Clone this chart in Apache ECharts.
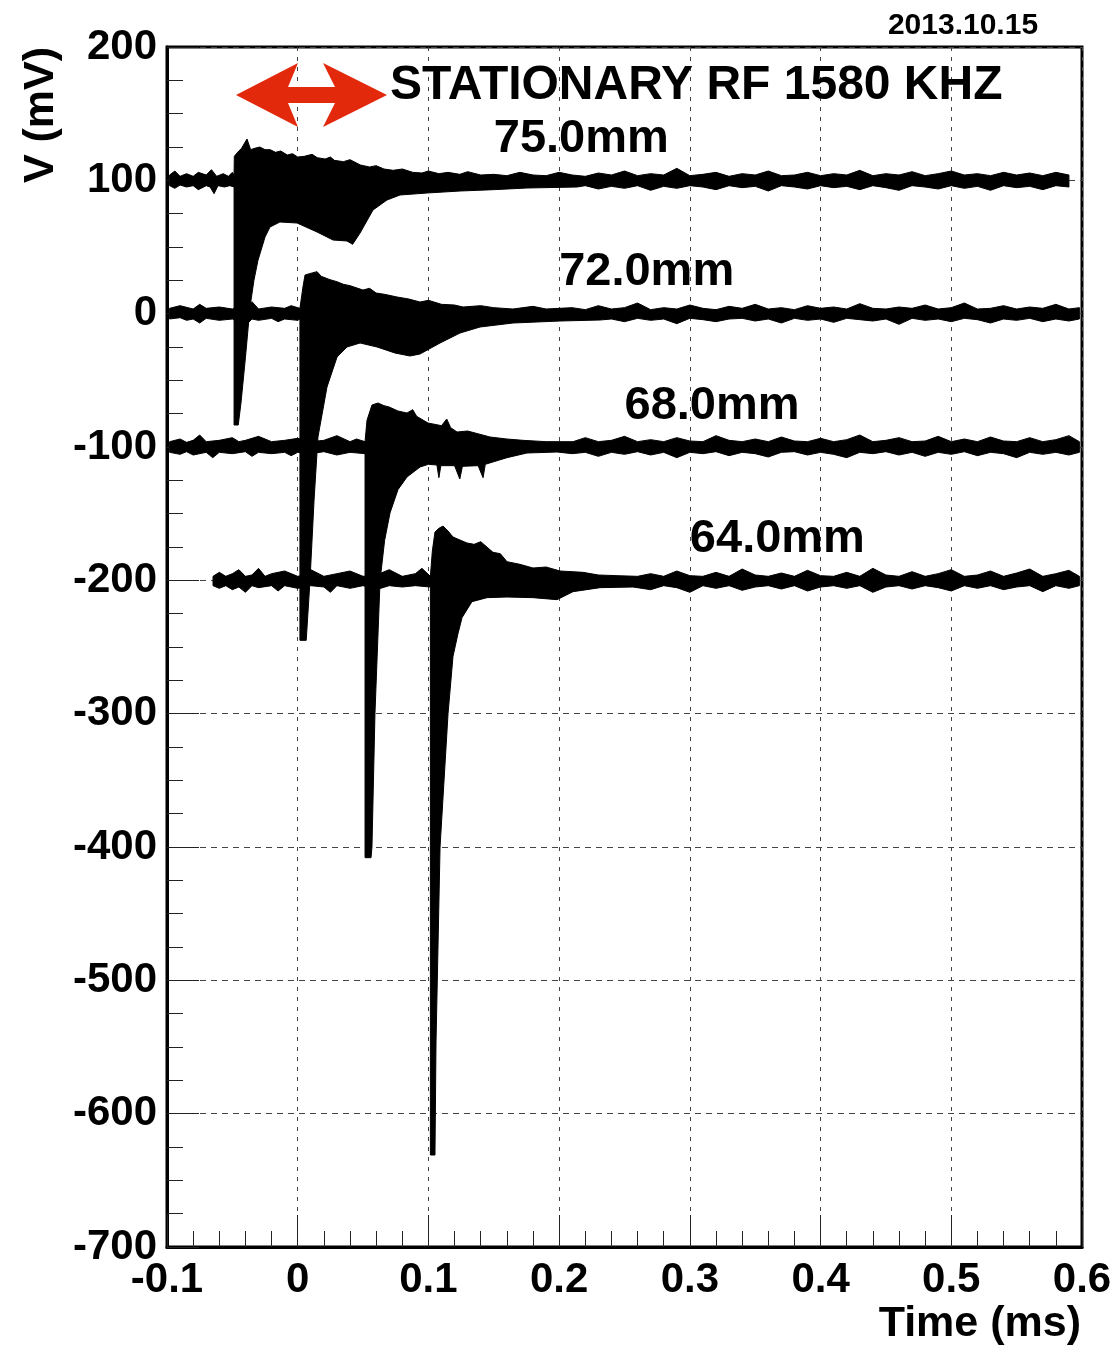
<!DOCTYPE html>
<html>
<head>
<meta charset="utf-8">
<script src="https://cdn.jsdelivr.net/npm/echarts@6/dist/echarts.min.js"></script>
<style>
  html, body { margin: 0; padding: 0; background: #fff; }
  #chart { width: 1118px; height: 1346px; }
</style>
</head>
<body>
<div id="chart"></div>
<script>
// envelopes of each scope trace, [time (ms), V (mV)]

// 75.0mm, baseline +100
const upper75 = [
  [-0.098, 104], [-0.094, 107], [-0.09, 103], [-0.085, 105], [-0.08, 103], [-0.076, 106], [-0.07, 104],
  [-0.066, 108], [-0.062, 103], [-0.057, 105], [-0.053, 103], [-0.05, 106], [-0.0487, 104],
  [-0.0485, 118], [-0.046, 121], [-0.043, 124], [-0.0388, 131], [-0.036, 123], [-0.033, 124], [-0.029, 125],
  [-0.025, 123], [-0.021, 123], [-0.017, 121], [-0.013, 122], [-0.008, 119], [-0.004, 120], [0, 117.5],
  [0.005, 118], [0.011, 119.5], [0.015, 117], [0.021, 116], [0.025, 117.5], [0.028, 115], [0.035, 114],
  [0.04, 115.5], [0.048, 111.5], [0.055, 110], [0.06, 111], [0.066, 108.5], [0.073, 107.5], [0.08, 108.5],
  [0.088, 106], [0.095, 105.5], [0.1, 107], [0.108, 105], [0.115, 106], [0.124, 104.5], [0.13, 106.5],
  [0.14, 104], [0.15, 104.5], [0.16, 103.5], [0.17, 106], [0.18, 104],
  [0.19, 103.5], [0.2, 106], [0.21, 104], [0.22, 103], [0.23, 105.5], [0.24, 104], [0.25, 107], [0.26, 103.5],
  [0.27, 105], [0.28, 104], [0.29, 109], [0.3, 103.5], [0.31, 104.5], [0.32, 106], [0.33, 103], [0.34, 105],
  [0.35, 104], [0.36, 107], [0.37, 103.5], [0.38, 104], [0.39, 106], [0.4, 103.5], [0.41, 105], [0.42, 104],
  [0.43, 107.5], [0.44, 103.5], [0.45, 105], [0.46, 104], [0.47, 106.5], [0.48, 103.5], [0.49, 105],
  [0.5, 107], [0.51, 104], [0.52, 105], [0.53, 103.5], [0.54, 106], [0.55, 104], [0.56, 105.5],
  [0.57, 103.5], [0.58, 106], [0.59, 104]
];
const lower75 = [
  [-0.098, 96], [-0.094, 94], [-0.09, 96.5], [-0.085, 95], [-0.08, 96], [-0.076, 93], [-0.07, 96],
  [-0.067, 95], [-0.064, 90], [-0.061, 96], [-0.056, 95], [-0.052, 96], [-0.0487, 95],
  [-0.0487, -83.5], [-0.0455, -83.5], [-0.0434, -67], [-0.04, -33], [-0.0365, 5], [-0.0335, 25],
  [-0.0304, 40], [-0.025, 57.5], [-0.0212, 65], [-0.0136, 68.75], [-0.0005, 68], [0.0148, 61.25],
  [0.027, 55.25], [0.0377, 54.5], [0.042, 52], [0.0477, 60.5], [0.0576, 77.75], [0.0683, 85.25],
  [0.0783, 89], [0.0989, 90.5], [0.1242, 92], [0.15, 93], [0.1754, 94.25], [0.2137, 95],
  [0.22, 96], [0.23, 93.5], [0.24, 95.5], [0.25, 94], [0.26, 96], [0.27, 92.5], [0.28, 95.5], [0.29, 94],
  [0.3, 96], [0.31, 95], [0.32, 93], [0.33, 96], [0.34, 94.5], [0.35, 95.5], [0.36, 92], [0.37, 96],
  [0.38, 95], [0.39, 93.5], [0.4, 96], [0.41, 94.5], [0.42, 95.5], [0.43, 93], [0.44, 96], [0.45, 94.5],
  [0.46, 92.5], [0.47, 96], [0.48, 95], [0.49, 93.5], [0.5, 96], [0.51, 94], [0.52, 95.5], [0.53, 92.5],
  [0.54, 96], [0.55, 94.5], [0.56, 95.5], [0.57, 93], [0.58, 96], [0.59, 95]
];

// 72.0mm, baseline 0
const upper72 = [
  [-0.098, 4], [-0.09, 6], [-0.08, 3.5], [-0.075, 7], [-0.07, 4], [-0.06, 5], [-0.05, 3.5], [-0.045, 6],
  [-0.04, 4], [-0.035, 9], [-0.03, 3.5], [-0.02, 5], [-0.01, 4], [-0.005, 6], [0.0017, 4],
  [0.004, 20], [0.0056, 29], [0.009, 30], [0.0148, 31.5], [0.018, 28], [0.0247, 25.5], [0.03, 24],
  [0.035, 22], [0.04, 21], [0.0499, 17.75], [0.055, 19], [0.06, 15.5], [0.0665, 14.5], [0.076, 12.5],
  [0.085, 11], [0.0936, 8.75], [0.1, 10], [0.11, 7], [0.12, 6.5], [0.1265, 5], [0.14, 6], [0.15, 4.5],
  [0.1647, 3.5], [0.18, 5.5], [0.19, 3.5], [0.2, 4],
  [0.21, 4.5], [0.22, 3], [0.23, 6], [0.24, 3.5], [0.25, 4.5], [0.26, 8], [0.27, 3], [0.28, 4.5],
  [0.29, 3.5], [0.3, 6.5], [0.31, 4], [0.32, 3], [0.33, 5.5], [0.34, 4], [0.35, 7], [0.36, 3.5],
  [0.37, 4.5], [0.38, 3], [0.39, 6], [0.4, 4], [0.41, 5], [0.42, 3.5], [0.43, 7.5], [0.44, 4],
  [0.45, 3.5], [0.46, 5], [0.47, 4], [0.48, 6.5], [0.49, 3.5], [0.5, 4.5], [0.51, 8], [0.52, 3.5],
  [0.53, 4], [0.54, 6], [0.55, 3.5], [0.56, 5], [0.57, 4], [0.58, 7], [0.59, 3.5], [0.598, 4.5]
];
const lower72 = [
  [-0.098, -4], [-0.09, -3], [-0.085, -5], [-0.08, -4], [-0.075, -7], [-0.07, -3.5], [-0.06, -5],
  [-0.05, -4], [-0.04, -9], [-0.035, -4], [-0.03, -5], [-0.02, -3.5], [-0.015, -6], [-0.01, -4],
  [0, -5], [0.0017, -4],
  [0.0017, -245], [0.0065, -245], [0.0094, -200], [0.0125, -140], [0.0155, -92.5], [0.0224, -55],
  [0.0301, -32.5], [0.0377, -25], [0.0477, -22], [0.0607, -25], [0.0744, -29.5], [0.0859, -31.75],
  [0.0936, -30.25], [0.1089, -22], [0.1242, -14.5], [0.1395, -10], [0.1647, -7], [0.2007, -5.5],
  [0.2313, -4.75],
  [0.24, -4], [0.25, -6], [0.26, -3.5], [0.27, -5], [0.28, -4], [0.29, -7.5], [0.3, -3.5], [0.31, -4.5],
  [0.32, -6], [0.33, -4], [0.34, -3.5], [0.35, -5.5], [0.36, -4], [0.37, -7], [0.38, -3.5], [0.39, -5],
  [0.4, -4], [0.41, -6.5], [0.42, -3.5], [0.43, -4.5], [0.44, -5.5], [0.45, -4], [0.46, -8], [0.47, -3.5],
  [0.48, -5], [0.49, -4], [0.5, -6], [0.51, -3.5], [0.52, -4.5], [0.53, -7], [0.54, -4], [0.55, -5],
  [0.56, -3.5], [0.57, -6], [0.58, -4], [0.59, -5.5], [0.598, -4]
];

// 68.0mm, baseline -100
const upper68 = [
  [-0.098, -96], [-0.09, -94], [-0.085, -96.5], [-0.08, -95], [-0.075, -91], [-0.07, -96], [-0.06, -95],
  [-0.05, -93], [-0.045, -96], [-0.04, -95], [-0.03, -92], [-0.02, -96], [-0.01, -95], [0, -93.5],
  [0.01, -96], [0.02, -95], [0.03, -91.5], [0.04, -96], [0.045, -94], [0.0515, -96],
  [0.053, -80], [0.0568, -68.5], [0.0614, -67], [0.066, -69], [0.07, -70], [0.0767, -73], [0.0836, -74.5],
  [0.088, -72], [0.091, -77], [0.0997, -82], [0.11, -84], [0.114, -79], [0.117, -85.5], [0.1219, -88.75],
  [0.13, -88], [0.1471, -92.5], [0.16, -94], [0.1724, -95], [0.19, -96], [0.2106, -96],
  [0.22, -93], [0.23, -96], [0.24, -95], [0.25, -92], [0.26, -96], [0.27, -94.5], [0.28, -96],
  [0.29, -93], [0.3, -95.5], [0.31, -96], [0.32, -91.5], [0.33, -95], [0.34, -96], [0.35, -94],
  [0.36, -96], [0.37, -92.5], [0.38, -95.5], [0.39, -96], [0.4, -93.5], [0.41, -96], [0.42, -94.5],
  [0.43, -91], [0.44, -96], [0.45, -95], [0.46, -93], [0.47, -96], [0.48, -95.5], [0.49, -92],
  [0.5, -96], [0.51, -94], [0.52, -96], [0.53, -92.5], [0.54, -95.5], [0.55, -96], [0.56, -93],
  [0.57, -96], [0.58, -94.5], [0.59, -91.5], [0.598, -96]
];
const lower68 = [
  [-0.098, -104], [-0.09, -105.5], [-0.085, -103.5], [-0.08, -106], [-0.07, -104], [-0.065, -108],
  [-0.06, -104], [-0.05, -105], [-0.04, -103.5], [-0.035, -107], [-0.03, -104], [-0.02, -105],
  [-0.01, -104], [-0.005, -106.5], [0, -104], [0.01, -105], [0.02, -103.5], [0.03, -106], [0.04, -104],
  [0.0515, -105],
  [0.0515, -408], [0.0561, -408], [0.0568, -400], [0.0591, -300], [0.063, -200], [0.0665, -170],
  [0.0706, -149.5], [0.0767, -132], [0.0836, -122.5], [0.0936, -115], [0.1, -113], [0.1065, -113.5],
  [0.108, -123], [0.1095, -114], [0.12, -114], [0.124, -124], [0.126, -114.5], [0.138, -114],
  [0.1418, -123], [0.1435, -113], [0.1601, -108], [0.1754, -104.5], [0.1984, -103.75],
  [0.21, -105], [0.22, -104], [0.23, -107], [0.24, -104], [0.25, -105.5], [0.26, -103.5], [0.27, -106],
  [0.28, -104], [0.29, -108], [0.3, -104], [0.31, -105], [0.32, -103.5], [0.33, -106.5], [0.34, -104],
  [0.35, -105], [0.36, -107.5], [0.37, -104], [0.38, -103.5], [0.39, -106], [0.4, -104], [0.41, -105.5],
  [0.42, -108], [0.43, -104], [0.44, -105], [0.45, -103.5], [0.46, -106], [0.47, -104], [0.48, -107],
  [0.49, -104], [0.5, -105.5], [0.51, -103.5], [0.52, -106.5], [0.53, -104], [0.54, -105],
  [0.55, -108], [0.56, -104], [0.57, -105.5], [0.58, -104], [0.59, -106], [0.598, -104]
];

// 64.0mm, baseline -200
const upper64 = [
  [-0.0648, -197], [-0.06, -194], [-0.055, -197], [-0.05, -195], [-0.045, -192], [-0.04, -197],
  [-0.035, -196], [-0.03, -191], [-0.025, -197], [-0.02, -195], [-0.01, -193], [0, -197], [0.005, -196],
  [0.01, -192], [0.02, -197], [0.03, -195], [0.04, -193], [0.05, -197], [0.06, -196], [0.07, -192],
  [0.08, -197], [0.09, -195], [0.095, -191], [0.1015, -197],
  [0.103, -178], [0.105, -163.75], [0.108, -161], [0.1112, -159.25], [0.115, -163], [0.1188, -167.5],
  [0.1295, -172], [0.135, -173], [0.14, -171], [0.1494, -179], [0.155, -180], [0.1601, -186],
  [0.17, -188], [0.18, -190.75], [0.19, -190], [0.2007, -193], [0.2183, -194], [0.23, -196],
  [0.2443, -196.5], [0.26, -197],
  [0.27, -195], [0.28, -197], [0.29, -193], [0.3, -196.5], [0.31, -197], [0.32, -194], [0.33, -197],
  [0.34, -191.5], [0.35, -196], [0.36, -197], [0.37, -194.5], [0.38, -197], [0.39, -192.5],
  [0.4, -196.5], [0.41, -197], [0.42, -194], [0.43, -197], [0.44, -191], [0.45, -196], [0.46, -197],
  [0.47, -193.5], [0.48, -197], [0.49, -195], [0.5, -192], [0.51, -197], [0.52, -196], [0.53, -193],
  [0.54, -197], [0.55, -194.5], [0.56, -191.5], [0.57, -197], [0.58, -195], [0.59, -192.5], [0.598, -197]
];
const lower64 = [
  [-0.0648, -204], [-0.06, -206], [-0.055, -204], [-0.05, -207], [-0.045, -205], [-0.04, -209],
  [-0.035, -204], [-0.03, -205.5], [-0.02, -204], [-0.015, -208], [-0.01, -204], [0, -206], [0.01, -204],
  [0.02, -205], [0.025, -209], [0.03, -204], [0.04, -206], [0.05, -204], [0.06, -207], [0.07, -204],
  [0.08, -205], [0.09, -204], [0.1015, -205],
  [0.1015, -631], [0.105, -631], [0.1058, -547], [0.1089, -400], [0.115, -300], [0.1188, -257],
  [0.1226, -240], [0.1257, -228], [0.1295, -222], [0.1333, -216], [0.1448, -213], [0.1601, -212.5],
  [0.18, -213], [0.1984, -214.5], [0.2106, -208.5], [0.2313, -205.5], [0.2565, -205],
  [0.27, -207], [0.28, -204], [0.29, -205.5], [0.3, -209], [0.31, -204], [0.32, -206], [0.33, -204],
  [0.34, -207.5], [0.35, -205], [0.36, -204], [0.37, -206.5], [0.38, -204], [0.39, -208], [0.4, -205],
  [0.41, -204], [0.42, -206], [0.43, -204], [0.44, -209], [0.45, -205], [0.46, -204], [0.47, -206.5],
  [0.48, -204], [0.49, -205.5], [0.5, -208], [0.51, -204], [0.52, -206], [0.53, -204], [0.54, -207],
  [0.55, -205], [0.56, -204], [0.57, -208.5], [0.58, -204], [0.59, -206], [0.598, -204]
];

// trace labels, anchored at (time, V) of their left/middle
const traceNames = ['75.0mm', '72.0mm', '68.0mm', '64.0mm'];
const labelTime = [0.15, 0.2, 0.25, 0.3];
const labelVolt = [131, 31, -69, -169];

// axes
const X_MIN = -0.1, X_MAX = 0.6, X_STEP = 0.1;
const Y_MIN = -700, Y_MAX = 200, Y_STEP = 100;

const FONT = '"Liberation Sans", Arial, Helvetica, sans-serif';

function band(upper, lower) {
  return {
    type: 'custom',
    coordinateSystem: 'cartesian2d',
    clip: true,
    silent: true,
    z: 3,
    data: [[0, 0]],
    renderItem: (params, api) => {
      const points = upper.map((p) => api.coord(p));
      for (let i = lower.length - 1; i >= 0; i--) {
        points.push(api.coord(lower[i]));
      }
      return {
        type: 'polygon',
        shape: { points },
        style: { fill: '#000', stroke: '#000', lineWidth: 1 },
      };
    },
  };
}

const chart = echarts.init(document.getElementById('chart'), null, { renderer: 'canvas' });

chart.setOption({
  backgroundColor: '#fff',
  animation: false,
  grid: {
    left: 167,
    right: 36,
    top: 47,
    bottom: 99,
    containLabel: false,
    outerBoundsMode: 'none',
    show: true,
    borderColor: '#000',
    borderWidth: 3,
    backgroundColor: 'transparent',
  },
  xAxis: {
    type: 'value',
    min: X_MIN,
    max: X_MAX,
    interval: X_STEP,
    axisLine: { show: true, onZero: false, lineStyle: { color: '#000', width: 3 } },
    axisTick: { inside: true, length: 32, lineStyle: { color: '#222', width: 1 } },
    minorTick: { show: true, splitNumber: 5, length: 16, lineStyle: { color: '#222', width: 1 } },
    splitLine: { show: true, lineStyle: { color: '#444', width: 1, type: [4, 6] } },
    axisLabel: {
      margin: 12,
      color: '#000',
      fontSize: 42,
      fontWeight: 'bold',
      fontFamily: FONT,
      formatter: (v) => String(Number(v.toFixed(1))),
    },
  },
  yAxis: {
    type: 'value',
    min: Y_MIN,
    max: Y_MAX,
    interval: Y_STEP,
    axisLine: { show: true, onZero: false, lineStyle: { color: '#000', width: 3 } },
    axisTick: { inside: true, length: 32, lineStyle: { color: '#222', width: 1 } },
    minorTick: { show: true, splitNumber: 4, length: 16, lineStyle: { color: '#222', width: 1 } },
    splitLine: { show: true, lineStyle: { color: '#444', width: 1, type: [6, 5] } },
    axisLabel: {
      margin: 10,
      color: '#000',
      fontSize: 42,
      fontWeight: 'bold',
      fontFamily: FONT,
    },
  },
  series: [
    band(upper75, lower75),
    band(upper72, lower72),
    band(upper68, lower68),
    band(upper64, lower64),
    {
      type: 'scatter',
      silent: true,
      symbolSize: 0,
      z: 5,
      itemStyle: { opacity: 1, color: '#000' },
      data: labelTime.map((t, i) => [t, labelVolt[i]]),
      label: {
        show: true,
        position: 'right',
        distance: 0,
        formatter: (p) => traceNames[p.dataIndex],
        color: '#000',
        opacity: 1,
        fontSize: 47,
        fontWeight: 'bold',
        fontFamily: FONT,
        verticalAlign: 'middle',
      },
    },
  ],
  graphic: [
    {
      type: 'polygon',
      z: 10,
      shape: {
        points: [[236, 95], [298, 63], [288, 87], [335, 87], [323, 63], [387, 95],
                 [323, 127], [335, 103], [288, 103], [298, 127]],
      },
      style: { fill: '#e2290b' },
    },
    {
      type: 'text',
      z: 10,
      x: 390,
      y: 86,
      style: {
        text: 'STATIONARY RF 1580 KHZ',
        fill: '#000',
        fontSize: 48,
        fontWeight: 'bold',
        fontFamily: FONT,
        align: 'left',
        verticalAlign: 'middle',
      },
    },
    {
      type: 'text',
      z: 10,
      x: 963,
      y: 26,
      style: {
        text: '2013.10.15',
        fill: '#000',
        fontSize: 30,
        fontWeight: 'bold',
        fontFamily: FONT,
        align: 'center',
        verticalAlign: 'middle',
      },
    },
    {
      type: 'text',
      z: 10,
      x: 41,
      y: 115,
      rotation: Math.PI / 2,
      style: {
        text: 'V (mV)',
        fill: '#000',
        fontSize: 43,
        fontWeight: 'bold',
        fontFamily: FONT,
        align: 'center',
        verticalAlign: 'middle',
      },
    },
    {
      type: 'text',
      z: 10,
      x: 1081,
      y: 1324,
      style: {
        text: 'Time (ms)',
        fill: '#000',
        fontSize: 43,
        fontWeight: 'bold',
        fontFamily: FONT,
        align: 'right',
        verticalAlign: 'middle',
      },
    },
  ],
});
</script>
</body>
</html>
